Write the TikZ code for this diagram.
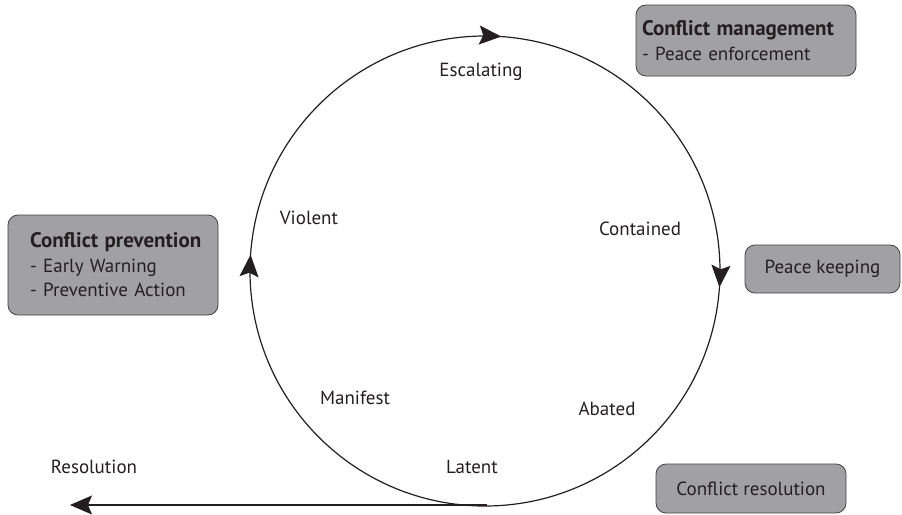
\documentclass[tikz,border=0pt]{standalone}
\usepackage{fontspec}
\setmainfont{PT Sans}
\usetikzlibrary{arrows.meta,decorations.markings}
\definecolor{ink}{RGB}{35,31,32}
\definecolor{boxfill}{RGB}{161,161,164}
\newcommand{\hd}[1]{\mbox{\fontsize{21}{24.5}\selectfont\bfseries #1}}
\begin{document}
\begin{tikzpicture}[x=1pt,y=-1pt,
  font=\fontsize{19}{24.5}\selectfont, text=ink,
  >={Stealth[length=22pt,width=19pt,inset=4pt]},
  box/.style={draw=ink!85, fill=boxfill, rounded corners=10pt, line width=0.8pt, inner sep=0pt},
  lbl/.style={inner sep=0pt},
  cyc/.style={draw=ink, line width=1.2pt},
  flowarrow/.style={draw=ink, line width=1.2pt, ->}]
\useasboundingbox (0,0) rectangle (902,514);

% cycle
\draw[cyc, postaction={decorate}, decoration={markings,
   mark=at position 0.239 with {\arrowreversed{>}},
   mark=at position 0.489 with {\arrowreversed{>}},
   mark=at position 0.989 with {\arrowreversed{>}}}]
   (485,271) circle[radius=235pt];
\coordinate (bot) at (487,505);
\coordinate (resend) at (70,505);
\draw[flowarrow] (bot) -- (resend);

% stage labels
\node[lbl] (esc) at (481,72) {Escalating};
\node[lbl] (con) at (640,229) {Contained};
\node[lbl] (vio) at (309,218) {Violent};
\node[lbl] (man) at (355,398) {Manifest};
\node[lbl] (aba) at (607,409) {Abated};
\node[lbl] (lat) at (472,467) {Latent};
\node[lbl] (res) at (94,467) {Resolution};

% boxes
\node[box, minimum width=220pt, minimum height=71pt, text width=208pt, align=left]
  (mgmt) at (746,40.5) {\hd{Conflict management}\\- Peace enforcement};
\node[box, minimum width=210pt, minimum height=100pt, text width=166pt, align=left]
  (prev) at (113,265) {\hd{Conflict prevention}\\- Early Warning\\- Preventive Action};
\node[box, minimum width=155pt, minimum height=48pt, align=center]
  (keep) at (822.5,269) {Peace keeping};
\node[box, minimum width=190pt, minimum height=49pt, align=center]
  (cres) at (751,488.5) {Conflict resolution};
\end{tikzpicture}
\end{document}
